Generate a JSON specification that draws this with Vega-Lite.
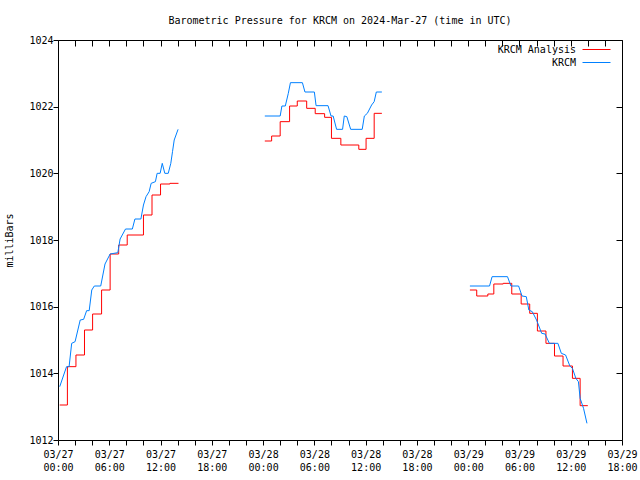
{
  "$schema": "https://vega.github.io/schema/vega-lite/v6.json",
  "width": 564,
  "height": 400,
  "autosize": "none",
  "padding": {"left": 58, "top": 40, "right": 18, "bottom": 40},
  "title": {"text": "Barometric Pressure for KRCM on 2024-Mar-27 (time in UTC)", "font": "DejaVu Sans Mono", "fontSize": 10, "fontWeight": "normal", "color": "black", "anchor": "middle", "offset": 9},
  "data": {"values": [
    {"s": "KRCM Analysis", "seg": 1, "t": "2024-03-27T00:12:00Z", "p": 1013.05},
    {"s": "KRCM Analysis", "seg": 1, "t": "2024-03-27T01:06:00Z", "p": 1014.2},
    {"s": "KRCM Analysis", "seg": 1, "t": "2024-03-27T02:06:00Z", "p": 1014.55},
    {"s": "KRCM Analysis", "seg": 1, "t": "2024-03-27T03:06:00Z", "p": 1015.3},
    {"s": "KRCM Analysis", "seg": 1, "t": "2024-03-27T04:03:00Z", "p": 1015.78},
    {"s": "KRCM Analysis", "seg": 1, "t": "2024-03-27T05:06:00Z", "p": 1016.5},
    {"s": "KRCM Analysis", "seg": 1, "t": "2024-03-27T06:06:00Z", "p": 1017.58},
    {"s": "KRCM Analysis", "seg": 1, "t": "2024-03-27T07:06:00Z", "p": 1017.85},
    {"s": "KRCM Analysis", "seg": 1, "t": "2024-03-27T08:06:00Z", "p": 1018.15},
    {"s": "KRCM Analysis", "seg": 1, "t": "2024-03-27T10:00:00Z", "p": 1018.75},
    {"s": "KRCM Analysis", "seg": 1, "t": "2024-03-27T11:00:00Z", "p": 1019.35},
    {"s": "KRCM Analysis", "seg": 1, "t": "2024-03-27T12:00:00Z", "p": 1019.68},
    {"s": "KRCM Analysis", "seg": 1, "t": "2024-03-27T13:06:00Z", "p": 1019.7},
    {"s": "KRCM Analysis", "seg": 1, "t": "2024-03-27T14:06:00Z", "p": 1019.7},
    {"s": "KRCM Analysis", "seg": 2, "t": "2024-03-28T00:12:00Z", "p": 1020.97},
    {"s": "KRCM Analysis", "seg": 2, "t": "2024-03-28T01:00:00Z", "p": 1021.12},
    {"s": "KRCM Analysis", "seg": 2, "t": "2024-03-28T02:00:00Z", "p": 1021.55},
    {"s": "KRCM Analysis", "seg": 2, "t": "2024-03-28T03:06:00Z", "p": 1022.02},
    {"s": "KRCM Analysis", "seg": 2, "t": "2024-03-28T04:00:00Z", "p": 1022.17},
    {"s": "KRCM Analysis", "seg": 2, "t": "2024-03-28T05:06:00Z", "p": 1021.95},
    {"s": "KRCM Analysis", "seg": 2, "t": "2024-03-28T06:06:00Z", "p": 1021.79},
    {"s": "KRCM Analysis", "seg": 2, "t": "2024-03-28T07:12:00Z", "p": 1021.68},
    {"s": "KRCM Analysis", "seg": 2, "t": "2024-03-28T08:00:00Z", "p": 1021.05},
    {"s": "KRCM Analysis", "seg": 2, "t": "2024-03-28T09:06:00Z", "p": 1020.85},
    {"s": "KRCM Analysis", "seg": 2, "t": "2024-03-28T11:12:00Z", "p": 1020.72},
    {"s": "KRCM Analysis", "seg": 2, "t": "2024-03-28T12:03:00Z", "p": 1021.05},
    {"s": "KRCM Analysis", "seg": 2, "t": "2024-03-28T13:00:00Z", "p": 1021.8},
    {"s": "KRCM Analysis", "seg": 2, "t": "2024-03-28T13:54:00Z", "p": 1021.8},
    {"s": "KRCM Analysis", "seg": 3, "t": "2024-03-29T00:12:00Z", "p": 1016.5},
    {"s": "KRCM Analysis", "seg": 3, "t": "2024-03-29T01:00:00Z", "p": 1016.32},
    {"s": "KRCM Analysis", "seg": 3, "t": "2024-03-29T02:18:00Z", "p": 1016.38},
    {"s": "KRCM Analysis", "seg": 3, "t": "2024-03-29T03:00:00Z", "p": 1016.68},
    {"s": "KRCM Analysis", "seg": 3, "t": "2024-03-29T04:06:00Z", "p": 1016.7},
    {"s": "KRCM Analysis", "seg": 3, "t": "2024-03-29T05:06:00Z", "p": 1016.38},
    {"s": "KRCM Analysis", "seg": 3, "t": "2024-03-29T06:12:00Z", "p": 1016.08},
    {"s": "KRCM Analysis", "seg": 3, "t": "2024-03-29T07:12:00Z", "p": 1015.8},
    {"s": "KRCM Analysis", "seg": 3, "t": "2024-03-29T08:06:00Z", "p": 1015.27},
    {"s": "KRCM Analysis", "seg": 3, "t": "2024-03-29T09:06:00Z", "p": 1014.9},
    {"s": "KRCM Analysis", "seg": 3, "t": "2024-03-29T10:06:00Z", "p": 1014.52},
    {"s": "KRCM Analysis", "seg": 3, "t": "2024-03-29T11:06:00Z", "p": 1014.22},
    {"s": "KRCM Analysis", "seg": 3, "t": "2024-03-29T12:12:00Z", "p": 1013.85},
    {"s": "KRCM Analysis", "seg": 3, "t": "2024-03-29T13:06:00Z", "p": 1013.03},
    {"s": "KRCM Analysis", "seg": 3, "t": "2024-03-29T14:00:00Z", "p": 1013.03},
    {"s": "KRCM", "seg": 1, "t": "2024-03-27T00:12:00Z", "p": 1013.6},
    {"s": "KRCM", "seg": 1, "t": "2024-03-27T01:00:00Z", "p": 1014.2},
    {"s": "KRCM", "seg": 1, "t": "2024-03-27T01:18:00Z", "p": 1014.2},
    {"s": "KRCM", "seg": 1, "t": "2024-03-27T01:36:00Z", "p": 1014.9},
    {"s": "KRCM", "seg": 1, "t": "2024-03-27T02:00:00Z", "p": 1014.95},
    {"s": "KRCM", "seg": 1, "t": "2024-03-27T02:36:00Z", "p": 1015.6},
    {"s": "KRCM", "seg": 1, "t": "2024-03-27T03:00:00Z", "p": 1015.62},
    {"s": "KRCM", "seg": 1, "t": "2024-03-27T03:21:00Z", "p": 1015.88},
    {"s": "KRCM", "seg": 1, "t": "2024-03-27T03:39:00Z", "p": 1015.88},
    {"s": "KRCM", "seg": 1, "t": "2024-03-27T03:57:00Z", "p": 1016.5},
    {"s": "KRCM", "seg": 1, "t": "2024-03-27T04:15:00Z", "p": 1016.62},
    {"s": "KRCM", "seg": 1, "t": "2024-03-27T05:00:00Z", "p": 1016.62},
    {"s": "KRCM", "seg": 1, "t": "2024-03-27T05:30:00Z", "p": 1017.28},
    {"s": "KRCM", "seg": 1, "t": "2024-03-27T06:06:00Z", "p": 1017.58},
    {"s": "KRCM", "seg": 1, "t": "2024-03-27T07:00:00Z", "p": 1017.62},
    {"s": "KRCM", "seg": 1, "t": "2024-03-27T07:16:00Z", "p": 1018.03},
    {"s": "KRCM", "seg": 1, "t": "2024-03-27T07:54:00Z", "p": 1018.33},
    {"s": "KRCM", "seg": 1, "t": "2024-03-27T08:42:00Z", "p": 1018.33},
    {"s": "KRCM", "seg": 1, "t": "2024-03-27T09:00:00Z", "p": 1018.63},
    {"s": "KRCM", "seg": 1, "t": "2024-03-27T09:42:00Z", "p": 1018.63},
    {"s": "KRCM", "seg": 1, "t": "2024-03-27T10:00:00Z", "p": 1019.05},
    {"s": "KRCM", "seg": 1, "t": "2024-03-27T10:18:00Z", "p": 1019.3},
    {"s": "KRCM", "seg": 1, "t": "2024-03-27T10:40:00Z", "p": 1019.45},
    {"s": "KRCM", "seg": 1, "t": "2024-03-27T10:54:00Z", "p": 1019.7},
    {"s": "KRCM", "seg": 1, "t": "2024-03-27T11:24:00Z", "p": 1019.75},
    {"s": "KRCM", "seg": 1, "t": "2024-03-27T11:36:00Z", "p": 1020.0},
    {"s": "KRCM", "seg": 1, "t": "2024-03-27T11:57:00Z", "p": 1020.0},
    {"s": "KRCM", "seg": 1, "t": "2024-03-27T12:12:00Z", "p": 1020.3},
    {"s": "KRCM", "seg": 1, "t": "2024-03-27T12:30:00Z", "p": 1020.0},
    {"s": "KRCM", "seg": 1, "t": "2024-03-27T12:54:00Z", "p": 1020.0},
    {"s": "KRCM", "seg": 1, "t": "2024-03-27T13:12:00Z", "p": 1020.3},
    {"s": "KRCM", "seg": 1, "t": "2024-03-27T13:24:00Z", "p": 1020.65},
    {"s": "KRCM", "seg": 1, "t": "2024-03-27T13:36:00Z", "p": 1021.0},
    {"s": "KRCM", "seg": 1, "t": "2024-03-27T14:03:00Z", "p": 1021.32},
    {"s": "KRCM", "seg": 2, "t": "2024-03-28T00:12:00Z", "p": 1021.72},
    {"s": "KRCM", "seg": 2, "t": "2024-03-28T02:00:00Z", "p": 1021.72},
    {"s": "KRCM", "seg": 2, "t": "2024-03-28T02:12:00Z", "p": 1022.02},
    {"s": "KRCM", "seg": 2, "t": "2024-03-28T02:36:00Z", "p": 1022.02},
    {"s": "KRCM", "seg": 2, "t": "2024-03-28T02:57:00Z", "p": 1022.4},
    {"s": "KRCM", "seg": 2, "t": "2024-03-28T03:12:00Z", "p": 1022.72},
    {"s": "KRCM", "seg": 2, "t": "2024-03-28T04:36:00Z", "p": 1022.72},
    {"s": "KRCM", "seg": 2, "t": "2024-03-28T04:54:00Z", "p": 1022.44},
    {"s": "KRCM", "seg": 2, "t": "2024-03-28T06:00:00Z", "p": 1022.44},
    {"s": "KRCM", "seg": 2, "t": "2024-03-28T06:12:00Z", "p": 1022.03},
    {"s": "KRCM", "seg": 2, "t": "2024-03-28T07:36:00Z", "p": 1022.03},
    {"s": "KRCM", "seg": 2, "t": "2024-03-28T07:57:00Z", "p": 1021.72},
    {"s": "KRCM", "seg": 2, "t": "2024-03-28T08:12:00Z", "p": 1021.72},
    {"s": "KRCM", "seg": 2, "t": "2024-03-28T08:36:00Z", "p": 1021.32},
    {"s": "KRCM", "seg": 2, "t": "2024-03-28T09:18:00Z", "p": 1021.32},
    {"s": "KRCM", "seg": 2, "t": "2024-03-28T09:30:00Z", "p": 1021.72},
    {"s": "KRCM", "seg": 2, "t": "2024-03-28T09:48:00Z", "p": 1021.7},
    {"s": "KRCM", "seg": 2, "t": "2024-03-28T10:15:00Z", "p": 1021.32},
    {"s": "KRCM", "seg": 2, "t": "2024-03-28T11:36:00Z", "p": 1021.32},
    {"s": "KRCM", "seg": 2, "t": "2024-03-28T11:51:00Z", "p": 1021.72},
    {"s": "KRCM", "seg": 2, "t": "2024-03-28T12:12:00Z", "p": 1021.8},
    {"s": "KRCM", "seg": 2, "t": "2024-03-28T12:42:00Z", "p": 1022.05},
    {"s": "KRCM", "seg": 2, "t": "2024-03-28T13:00:00Z", "p": 1022.15},
    {"s": "KRCM", "seg": 2, "t": "2024-03-28T13:15:00Z", "p": 1022.44},
    {"s": "KRCM", "seg": 2, "t": "2024-03-28T13:54:00Z", "p": 1022.44},
    {"s": "KRCM", "seg": 3, "t": "2024-03-29T00:12:00Z", "p": 1016.62},
    {"s": "KRCM", "seg": 3, "t": "2024-03-29T02:30:00Z", "p": 1016.62},
    {"s": "KRCM", "seg": 3, "t": "2024-03-29T02:48:00Z", "p": 1016.9},
    {"s": "KRCM", "seg": 3, "t": "2024-03-29T04:36:00Z", "p": 1016.9},
    {"s": "KRCM", "seg": 3, "t": "2024-03-29T05:00:00Z", "p": 1016.62},
    {"s": "KRCM", "seg": 3, "t": "2024-03-29T05:54:00Z", "p": 1016.62},
    {"s": "KRCM", "seg": 3, "t": "2024-03-29T06:18:00Z", "p": 1016.32},
    {"s": "KRCM", "seg": 3, "t": "2024-03-29T06:48:00Z", "p": 1016.3},
    {"s": "KRCM", "seg": 3, "t": "2024-03-29T07:06:00Z", "p": 1015.9},
    {"s": "KRCM", "seg": 3, "t": "2024-03-29T07:30:00Z", "p": 1015.85},
    {"s": "KRCM", "seg": 3, "t": "2024-03-29T08:00:00Z", "p": 1015.6},
    {"s": "KRCM", "seg": 3, "t": "2024-03-29T08:36:00Z", "p": 1015.2},
    {"s": "KRCM", "seg": 3, "t": "2024-03-29T09:00:00Z", "p": 1015.18},
    {"s": "KRCM", "seg": 3, "t": "2024-03-29T09:30:00Z", "p": 1014.9},
    {"s": "KRCM", "seg": 3, "t": "2024-03-29T10:30:00Z", "p": 1014.9},
    {"s": "KRCM", "seg": 3, "t": "2024-03-29T10:54:00Z", "p": 1014.6},
    {"s": "KRCM", "seg": 3, "t": "2024-03-29T11:24:00Z", "p": 1014.55},
    {"s": "KRCM", "seg": 3, "t": "2024-03-29T11:54:00Z", "p": 1014.22},
    {"s": "KRCM", "seg": 3, "t": "2024-03-29T12:12:00Z", "p": 1014.15},
    {"s": "KRCM", "seg": 3, "t": "2024-03-29T12:36:00Z", "p": 1013.85},
    {"s": "KRCM", "seg": 3, "t": "2024-03-29T12:54:00Z", "p": 1013.75},
    {"s": "KRCM", "seg": 3, "t": "2024-03-29T13:06:00Z", "p": 1013.25},
    {"s": "KRCM", "seg": 3, "t": "2024-03-29T13:30:00Z", "p": 1012.95},
    {"s": "KRCM", "seg": 3, "t": "2024-03-29T13:54:00Z", "p": 1012.5}
  ]},
  "layer": [
    {
      "transform": [{"filter": "datum.s == 'KRCM Analysis'"}],
      "mark": {"type": "line", "interpolate": "step-after", "strokeWidth": 1},
      "encoding": {
        "x": {"field": "t", "type": "temporal", "scale": {"type": "utc", "domain": [1711497600000, 1711735200000]},
          "axis": {"orient": "bottom", "title": null, "offset": 0, "tickSize": 5, "values": [1711497600000, 1711504800000, 1711512000000, 1711519200000, 1711526400000, 1711533600000, 1711540800000, 1711548000000, 1711555200000, 1711562400000, 1711569600000, 1711576800000, 1711584000000, 1711591200000, 1711598400000, 1711605600000, 1711612800000, 1711620000000, 1711627200000, 1711634400000, 1711641600000, 1711648800000, 1711656000000, 1711663200000, 1711670400000, 1711677600000, 1711684800000, 1711692000000, 1711699200000, 1711706400000, 1711713600000, 1711720800000, 1711728000000, 1711735200000],
            "labelExpr": "utchours(datum.value) % 6 == 0 ? [utcFormat(datum.value, '%m/%d'), utcFormat(datum.value, '%H:%M')] : ''", "labelOverlap": false, "labelFlush": false, "labelBound": false, "labelLineHeight": 13, "labelPadding": 4}},
        "y": {"field": "p", "type": "quantitative", "scale": {"domain": [1012, 1024], "zero": false, "nice": false},
          "axis": {"orient": "left", "title": "milliBars", "offset": 0, "tickSize": 5, "values": [1012, 1014, 1016, 1018, 1020, 1022, 1024], "format": "d", "labelPadding": 0, "titlePadding": 14}},
        "color": {"field": "s", "type": "nominal", "scale": {"domain": ["KRCM Analysis", "KRCM"], "range": ["#ff0000", "#0080ff"]},
          "legend": {"title": null, "orient": "none", "legendX": 531, "legendY": 2, "symbolType": "M-2,0H2", "symbolSize": 196, "symbolStrokeWidth": 1, "labelAlign": "right", "labelOffset": -28, "labelFont": "DejaVu Sans Mono", "labelFontSize": 10, "labelColor": "black", "rowPadding": 0, "padding": 0}},
        "detail": {"field": "seg", "type": "nominal"}
      }
    },
    {
      "transform": [{"filter": "datum.s == 'KRCM'"}],
      "mark": {"type": "line", "strokeWidth": 1},
      "encoding": {
        "x": {"field": "t", "type": "temporal", "scale": {"type": "utc", "domain": [1711497600000, 1711735200000]},
          "axis": {"orient": "top", "title": null, "labels": false, "offset": -6, "tickSize": 6, "values": [1711497600000, 1711504800000, 1711512000000, 1711519200000, 1711526400000, 1711533600000, 1711540800000, 1711548000000, 1711555200000, 1711562400000, 1711569600000, 1711576800000, 1711584000000, 1711591200000, 1711598400000, 1711605600000, 1711612800000, 1711620000000, 1711627200000, 1711634400000, 1711641600000, 1711648800000, 1711656000000, 1711663200000, 1711670400000, 1711677600000, 1711684800000, 1711692000000, 1711699200000, 1711706400000, 1711713600000, 1711720800000, 1711728000000, 1711735200000]}},
        "y": {"field": "p", "type": "quantitative", "scale": {"domain": [1012, 1024], "zero": false, "nice": false},
          "axis": {"orient": "right", "title": null, "labels": false, "offset": -6, "tickSize": 6, "values": [1012, 1014, 1016, 1018, 1020, 1022, 1024]}},
        "color": {"field": "s", "type": "nominal"},
        "detail": {"field": "seg", "type": "nominal"}
      }
    }
  ],
  "config": {
    "view": {"stroke": "black", "strokeWidth": 1},
    "axis": {"grid": false, "domain": false, "ticks": true, "tickWidth": 1, "tickOpacity": 1, "tickColor": "#000000", "zindex": 2, "labelColor": "black", "labelFont": "DejaVu Sans Mono", "labelFontSize": 10, "titleFont": "DejaVu Sans Mono", "titleFontSize": 10, "titleFontWeight": "normal", "titleColor": "black"}
  }
}
